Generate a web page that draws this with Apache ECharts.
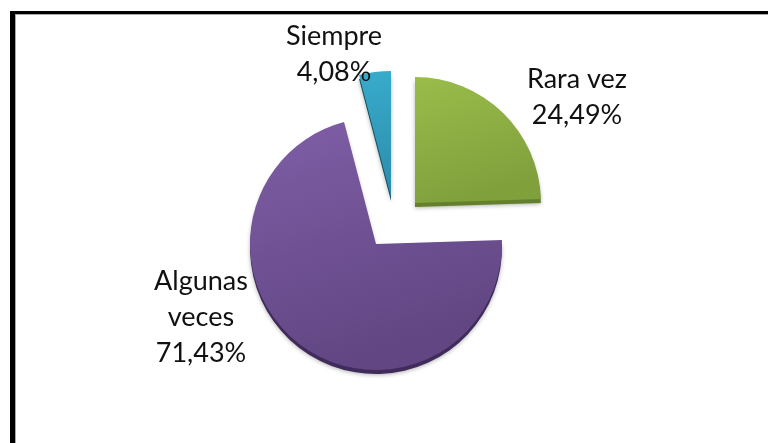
<!DOCTYPE html>
<html><head><meta charset="utf-8">
<style>html,body{margin:0;padding:0;background:#fff}#c{width:768px;height:443px}</style>
<script src="https://cdn.jsdelivr.net/npm/echarts@6/dist/echarts.min.js"></script>
</head><body><div id="c"></div>
<script>
const categories = ['Rara vez', 'Algunas\nveces', 'Siempre'];
const values = [24.49, 71.43, 4.08];
const centers = [[415, 203], [376, 244], [391, 197]];
const labelPos = [[577, 97], [201, 317], [334, 54]];
const topLight = ['#9abc4a', '#7f5ea6', '#38abcb'];
const topDark = ['#80a03c', '#614683', '#2c8cac'];
const side = ['#65802d', '#3f2c5a', '#12505f'];
const R = 126, DEPTH = 4;
const chart = echarts.init(document.getElementById('c'), null, {renderer: 'canvas'});
const hidden = {color: 'rgba(0,0,0,0)', shadowBlur: 0};
const fmt = v => v.toFixed(2).replace('.', ',') + '%';
function pie(i, isSide) {
  return {
    type: 'pie', silent: true, animation: false, clockwise: true, startAngle: 90,
    radius: [0, R], center: isSide ? [centers[i][0], centers[i][1] + DEPTH] : centers[i],
    z: isSide ? 1 : 2,
    labelLine: {show: false},
    labelLayout: isSide ? undefined : () => ({x: labelPos[i][0], y: labelPos[i][1], align: 'center', verticalAlign: 'middle'}),
    data: categories.map((name, j) => ({
      name, value: values[j],
      itemStyle: j !== i ? hidden : (isSide
        ? {color: side[i], shadowBlur: 4, shadowColor: 'rgba(0,0,0,0.3)', shadowOffsetY: 1}
        : {color: new echarts.graphic.LinearGradient(0, 0, 0.3, 1, [{offset: 0, color: topLight[i]}, {offset: 1, color: topDark[i]}])}),
      label: (j === i && !isSide)
        ? {show: true, position: 'outside', formatter: p => p.name + '\n' + fmt(p.value),
           fontFamily: 'Lato', fontSize: 27, lineHeight: 36, color: '#111', align: 'center'}
        : {show: false}
    }))
  };
}
const series = [];
values.forEach((_, i) => series.push(pie(i, true)));
values.forEach((_, i) => series.push(pie(i, false)));
const bar = (x, y, width, height, fill) => ({type: 'rect', silent: true, z: 0, shape: {x, y, width, height}, style: {fill}});
chart.setOption({
  backgroundColor: '#fff',
  animation: false,
  graphic: [
    bar(15, 14, 753, 1, '#aaa'),
    bar(15, 14, 1, 429, '#aaa'),
    bar(10, 11, 758, 3, '#000'),
    bar(10, 11, 5, 432, '#000')
  ],
  series
});
</script></body></html>
